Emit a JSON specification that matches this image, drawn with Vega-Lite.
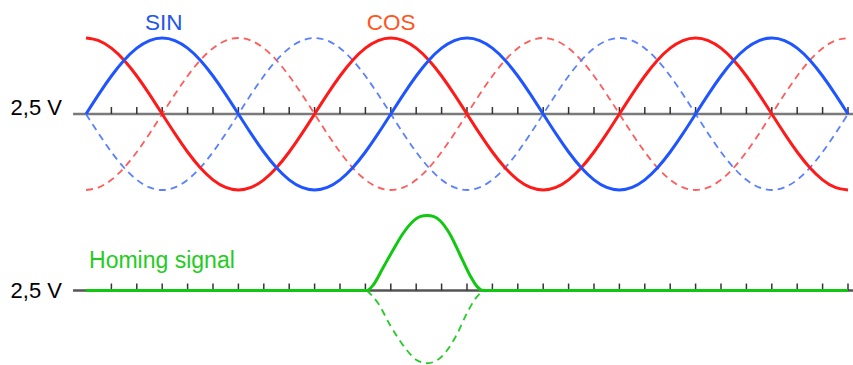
{
  "$schema": "https://vega.github.io/schema/vega-lite/v6.json",
  "padding": 0,
  "background": "white",
  "config": {"view": {"stroke": null}, "concat": {"spacing": 0}},
  "resolve": {"scale": {"x": "independent", "y": "independent"}},
  "datasets": {
    "one": [{}],
    "ticks": [{"k":1},{"k":2},{"k":3},{"k":4},{"k":5},{"k":6},{"k":7},{"k":8},{"k":9},{"k":10},{"k":11},{"k":12},{"k":13},{"k":14},{"k":15},{"k":16},{"k":17},{"k":18},{"k":19},{"k":20},{"k":21},{"k":22},{"k":23},{"k":24},{"k":25},{"k":26},{"k":27},{"k":28},{"k":29},{"k":30}],
    "waves": [
      {"k":0,"sin":0,"cos":1,"nsin":0,"ncos":-1},
      {"k":0.5,"sin":0.2588,"cos":0.9659,"nsin":-0.2588,"ncos":-0.9659},
      {"k":1,"sin":0.5,"cos":0.866,"nsin":-0.5,"ncos":-0.866},
      {"k":1.5,"sin":0.7071,"cos":0.7071,"nsin":-0.7071,"ncos":-0.7071},
      {"k":2,"sin":0.866,"cos":0.5,"nsin":-0.866,"ncos":-0.5},
      {"k":2.5,"sin":0.9659,"cos":0.2588,"nsin":-0.9659,"ncos":-0.2588},
      {"k":3,"sin":1,"cos":0,"nsin":-1,"ncos":0},
      {"k":3.5,"sin":0.9659,"cos":-0.2588,"nsin":-0.9659,"ncos":0.2588},
      {"k":4,"sin":0.866,"cos":-0.5,"nsin":-0.866,"ncos":0.5},
      {"k":4.5,"sin":0.7071,"cos":-0.7071,"nsin":-0.7071,"ncos":0.7071},
      {"k":5,"sin":0.5,"cos":-0.866,"nsin":-0.5,"ncos":0.866},
      {"k":5.5,"sin":0.2588,"cos":-0.9659,"nsin":-0.2588,"ncos":0.9659},
      {"k":6,"sin":0,"cos":-1,"nsin":0,"ncos":1},
      {"k":6.5,"sin":-0.2588,"cos":-0.9659,"nsin":0.2588,"ncos":0.9659},
      {"k":7,"sin":-0.5,"cos":-0.866,"nsin":0.5,"ncos":0.866},
      {"k":7.5,"sin":-0.7071,"cos":-0.7071,"nsin":0.7071,"ncos":0.7071},
      {"k":8,"sin":-0.866,"cos":-0.5,"nsin":0.866,"ncos":0.5},
      {"k":8.5,"sin":-0.9659,"cos":-0.2588,"nsin":0.9659,"ncos":0.2588},
      {"k":9,"sin":-1,"cos":0,"nsin":1,"ncos":0},
      {"k":9.5,"sin":-0.9659,"cos":0.2588,"nsin":0.9659,"ncos":-0.2588},
      {"k":10,"sin":-0.866,"cos":0.5,"nsin":0.866,"ncos":-0.5},
      {"k":10.5,"sin":-0.7071,"cos":0.7071,"nsin":0.7071,"ncos":-0.7071},
      {"k":11,"sin":-0.5,"cos":0.866,"nsin":0.5,"ncos":-0.866},
      {"k":11.5,"sin":-0.2588,"cos":0.9659,"nsin":0.2588,"ncos":-0.9659},
      {"k":12,"sin":0,"cos":1,"nsin":0,"ncos":-1},
      {"k":12.5,"sin":0.2588,"cos":0.9659,"nsin":-0.2588,"ncos":-0.9659},
      {"k":13,"sin":0.5,"cos":0.866,"nsin":-0.5,"ncos":-0.866},
      {"k":13.5,"sin":0.7071,"cos":0.7071,"nsin":-0.7071,"ncos":-0.7071},
      {"k":14,"sin":0.866,"cos":0.5,"nsin":-0.866,"ncos":-0.5},
      {"k":14.5,"sin":0.9659,"cos":0.2588,"nsin":-0.9659,"ncos":-0.2588},
      {"k":15,"sin":1,"cos":0,"nsin":-1,"ncos":0},
      {"k":15.5,"sin":0.9659,"cos":-0.2588,"nsin":-0.9659,"ncos":0.2588},
      {"k":16,"sin":0.866,"cos":-0.5,"nsin":-0.866,"ncos":0.5},
      {"k":16.5,"sin":0.7071,"cos":-0.7071,"nsin":-0.7071,"ncos":0.7071},
      {"k":17,"sin":0.5,"cos":-0.866,"nsin":-0.5,"ncos":0.866},
      {"k":17.5,"sin":0.2588,"cos":-0.9659,"nsin":-0.2588,"ncos":0.9659},
      {"k":18,"sin":0,"cos":-1,"nsin":0,"ncos":1},
      {"k":18.5,"sin":-0.2588,"cos":-0.9659,"nsin":0.2588,"ncos":0.9659},
      {"k":19,"sin":-0.5,"cos":-0.866,"nsin":0.5,"ncos":0.866},
      {"k":19.5,"sin":-0.7071,"cos":-0.7071,"nsin":0.7071,"ncos":0.7071},
      {"k":20,"sin":-0.866,"cos":-0.5,"nsin":0.866,"ncos":0.5},
      {"k":20.5,"sin":-0.9659,"cos":-0.2588,"nsin":0.9659,"ncos":0.2588},
      {"k":21,"sin":-1,"cos":0,"nsin":1,"ncos":0},
      {"k":21.5,"sin":-0.9659,"cos":0.2588,"nsin":0.9659,"ncos":-0.2588},
      {"k":22,"sin":-0.866,"cos":0.5,"nsin":0.866,"ncos":-0.5},
      {"k":22.5,"sin":-0.7071,"cos":0.7071,"nsin":0.7071,"ncos":-0.7071},
      {"k":23,"sin":-0.5,"cos":0.866,"nsin":0.5,"ncos":-0.866},
      {"k":23.5,"sin":-0.2588,"cos":0.9659,"nsin":0.2588,"ncos":-0.9659},
      {"k":24,"sin":0,"cos":1,"nsin":0,"ncos":-1},
      {"k":24.5,"sin":0.2588,"cos":0.9659,"nsin":-0.2588,"ncos":-0.9659},
      {"k":25,"sin":0.5,"cos":0.866,"nsin":-0.5,"ncos":-0.866},
      {"k":25.5,"sin":0.7071,"cos":0.7071,"nsin":-0.7071,"ncos":-0.7071},
      {"k":26,"sin":0.866,"cos":0.5,"nsin":-0.866,"ncos":-0.5},
      {"k":26.5,"sin":0.9659,"cos":0.2588,"nsin":-0.9659,"ncos":-0.2588},
      {"k":27,"sin":1,"cos":0,"nsin":-1,"ncos":0},
      {"k":27.5,"sin":0.9659,"cos":-0.2588,"nsin":-0.9659,"ncos":0.2588},
      {"k":28,"sin":0.866,"cos":-0.5,"nsin":-0.866,"ncos":0.5},
      {"k":28.5,"sin":0.7071,"cos":-0.7071,"nsin":-0.7071,"ncos":0.7071},
      {"k":29,"sin":0.5,"cos":-0.866,"nsin":-0.5,"ncos":0.866},
      {"k":29.5,"sin":0.2588,"cos":-0.9659,"nsin":-0.2588,"ncos":0.9659},
      {"k":30,"sin":0,"cos":-1,"nsin":0,"ncos":1}
    ],
    "homing": [
      {"k":0,"h":0},{"k":11.06,"h":0},{"k":11.3,"h":0.07},{"k":11.69,"h":0.3},{"k":12.09,"h":0.54},{"k":12.48,"h":0.76},{"k":12.87,"h":0.92},{"k":13.15,"h":0.985},{"k":13.43,"h":1},{"k":13.7,"h":0.985},{"k":13.94,"h":0.93},{"k":14.33,"h":0.75},{"k":14.72,"h":0.48},{"k":15.12,"h":0.2},{"k":15.39,"h":0.055},{"k":15.63,"h":0},{"k":30,"h":0}
    ],
    "homingInv": [
      {"k":11.06,"h":0},{"k":11.5,"h":-0.17},{"k":11.97,"h":-0.46},{"k":12.28,"h":-0.63},{"k":12.64,"h":-0.8},{"k":13.03,"h":-0.93},{"k":13.43,"h":-0.97},{"k":13.82,"h":-0.93},{"k":14.21,"h":-0.8},{"k":14.61,"h":-0.58},{"k":15.0,"h":-0.3},{"k":15.31,"h":-0.12},{"k":15.63,"h":0}
    ]
  },
  "vconcat": [
    {
      "width": 853,
      "height": 200,
      "encoding": {
        "x": {"type": "quantitative", "axis": null, "scale": {"domain": [-3.3858, 30.197], "nice": false, "zero": false}}
      },
      "layer": [
        {
          "data": {"name": "one"},
          "mark": {"type": "rule", "color": "#7a7a7a", "strokeWidth": 2.5},
          "encoding": {"x": {"datum": -0.51, "type": "quantitative"}, "x2": {"datum": 30.197}, "y": {"datum": 0, "type": "quantitative", "axis": null, "scale": {"domain": [-1.1316, 1.5], "nice": false, "zero": false}}}
        },
        {
          "data": {"name": "ticks"},
          "mark": {"type": "rule", "color": "#333333", "strokeWidth": 1.5},
          "encoding": {"x": {"field": "k", "type": "quantitative"}, "y": {"datum": 0, "type": "quantitative"}, "y2": {"datum": 0.092}}
        },
        {
          "data": {"name": "waves"},
          "mark": {"type": "line", "interpolate": "natural", "color": "#ff5c5c", "strokeWidth": 1.8, "strokeDash": [7, 5]},
          "encoding": {"x": {"field": "k", "type": "quantitative"}, "y": {"field": "ncos", "type": "quantitative"}}
        },
        {
          "data": {"name": "waves"},
          "mark": {"type": "line", "interpolate": "natural", "color": "#5a80ff", "strokeWidth": 1.8, "strokeDash": [7, 5]},
          "encoding": {"x": {"field": "k", "type": "quantitative"}, "y": {"field": "nsin", "type": "quantitative"}}
        },
        {
          "data": {"name": "waves"},
          "mark": {"type": "line", "interpolate": "natural", "color": "#ff1a1a", "strokeWidth": 3},
          "encoding": {"x": {"field": "k", "type": "quantitative"}, "y": {"field": "cos", "type": "quantitative"}}
        },
        {
          "data": {"name": "waves"},
          "mark": {"type": "line", "interpolate": "natural", "color": "#1f55ff", "strokeWidth": 3},
          "encoding": {"x": {"field": "k", "type": "quantitative"}, "y": {"field": "sin", "type": "quantitative"}}
        },
        {
          "data": {"name": "one"},
          "mark": {"type": "text", "text": "SIN", "align": "left", "baseline": "alphabetic", "font": "Liberation Sans", "fontSize": 22.5, "color": "#2255ee"},
          "encoding": {"x": {"datum": 2.32, "type": "quantitative"}, "y": {"datum": 1.105, "type": "quantitative"}}
        },
        {
          "data": {"name": "one"},
          "mark": {"type": "text", "text": "COS", "align": "left", "baseline": "alphabetic", "font": "Liberation Sans", "fontSize": 22.5, "color": "#ff5522"},
          "encoding": {"x": {"datum": 11.05, "type": "quantitative"}, "y": {"datum": 1.105, "type": "quantitative"}}
        },
        {
          "data": {"name": "one"},
          "mark": {"type": "text", "text": "2,5 V", "align": "right", "baseline": "alphabetic", "font": "Liberation Sans", "fontSize": 22, "color": "#000000"},
          "encoding": {"x": {"datum": -0.945, "type": "quantitative"}, "y": {"datum": -0.013, "type": "quantitative"}}
        }
      ]
    },
    {
      "width": 853,
      "height": 165,
      "encoding": {
        "x": {"type": "quantitative", "axis": null, "scale": {"domain": [-3.3858, 30.197], "nice": false, "zero": false}}
      },
      "layer": [
        {
          "data": {"name": "one"},
          "mark": {"type": "rule", "color": "#555555", "strokeWidth": 2.5},
          "encoding": {"x": {"datum": -0.51, "type": "quantitative"}, "x2": {"datum": 30.197}, "y": {"datum": 0, "type": "quantitative", "axis": null, "scale": {"domain": [-0.9933, 1.2067], "nice": false, "zero": false}}}
        },
        {
          "data": {"name": "ticks"},
          "mark": {"type": "rule", "color": "#333333", "strokeWidth": 1.5},
          "encoding": {"x": {"field": "k", "type": "quantitative"}, "y": {"datum": 0, "type": "quantitative"}, "y2": {"datum": 0.093}}
        },
        {
          "data": {"name": "homingInv"},
          "mark": {"type": "line", "interpolate": "monotone", "color": "#22cc22", "strokeWidth": 1.8, "strokeDash": [7, 5]},
          "encoding": {"x": {"field": "k", "type": "quantitative"}, "y": {"field": "h", "type": "quantitative"}}
        },
        {
          "data": {"name": "homing"},
          "mark": {"type": "line", "interpolate": "monotone", "color": "#11c811", "strokeWidth": 3},
          "encoding": {"x": {"field": "k", "type": "quantitative"}, "y": {"field": "h", "type": "quantitative"}}
        },
        {
          "data": {"name": "one"},
          "mark": {"type": "text", "text": "Homing signal", "align": "left", "baseline": "alphabetic", "font": "Liberation Sans", "fontSize": 23, "color": "#22cc22"},
          "encoding": {"x": {"datum": 0.12, "type": "quantitative"}, "y": {"datum": 0.3, "type": "quantitative"}}
        },
        {
          "data": {"name": "one"},
          "mark": {"type": "text", "text": "2,5 V", "align": "right", "baseline": "alphabetic", "font": "Liberation Sans", "fontSize": 22, "color": "#000000"},
          "encoding": {"x": {"datum": -0.945, "type": "quantitative"}, "y": {"datum": -0.1, "type": "quantitative"}}
        }
      ]
    }
  ]
}
